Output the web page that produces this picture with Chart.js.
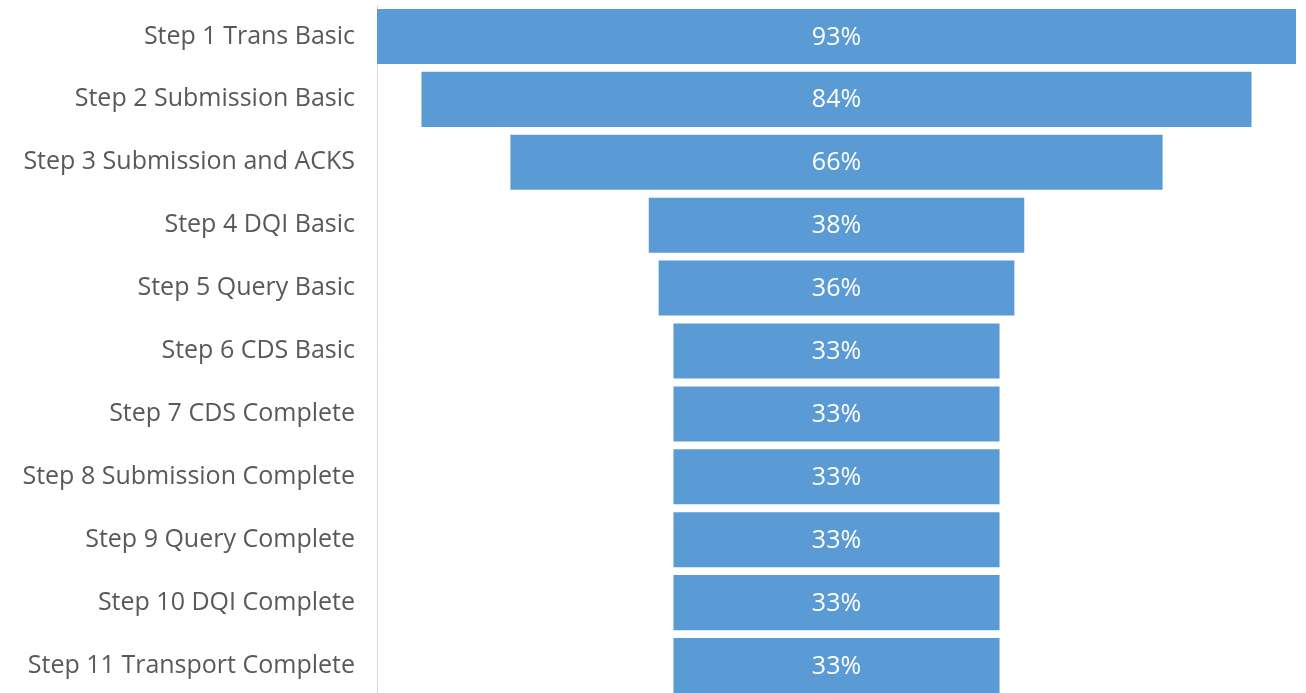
<!DOCTYPE html>
<html>
<head>
<meta charset="utf-8">
<script src="https://cdn.jsdelivr.net/npm/chart.js@4.4.0/dist/chart.umd.min.js"></script>
<style>
  html, body { margin: 0; padding: 0; background: #fff; overflow: hidden; }
  #wrap { width: 1306px; height: 700px; }
</style>
</head>
<body>
<div id="wrap"><canvas id="funnel"></canvas></div>
<script>
const steps = [
  'Step 1 Trans Basic',
  'Step 2 Submission Basic',
  'Step 3 Submission and ACKS',
  'Step 4 DQI Basic',
  'Step 5 Query Basic',
  'Step 6 CDS Basic',
  'Step 7 CDS Complete',
  'Step 8 Submission Complete',
  'Step 9 Query Complete',
  'Step 10 DQI Complete',
  'Step 11 Transport Complete'
];
const percents = [93, 84, 66, 38, 36, 33, 33, 33, 33, 33, 33];

// funnel: each bar is centred on half of the widest value
const maxVal = Math.max(...percents);
const mid = maxVal / 2;
const spans = percents.map(v => [mid - v / 2, mid + v / 2]);

// writes the % in the middle of each bar
const barLabels = {
  id: 'barLabels',
  afterDatasetsDraw(chart) {
    const ctx = chart.ctx;
    const meta = chart.getDatasetMeta(0);
    ctx.save();
    ctx.fillStyle = '#ffffff';
    ctx.font = '25px "Open Sans"';
    ctx.textAlign = 'center';
    ctx.textBaseline = 'middle';
    meta.data.forEach((bar, i) => {
      const x = chart.scales.x.getPixelForValue(mid);
      ctx.fillText(percents[i] + '%', x, bar.y + 1);
    });
    ctx.restore();
  }
};

new Chart(document.getElementById('funnel'), {
  type: 'bar',
  data: {
    labels: steps,
    datasets: [{
      data: spans,
      backgroundColor: '#5B9BD5',
      borderWidth: 0,
      borderSkipped: false,
      barPercentage: 0.875,
      categoryPercentage: 1.0
    }]
  },
  options: {
    indexAxis: 'y',
    responsive: true,
    maintainAspectRatio: false,
    animation: false,
    layout: { padding: { top: 5, right: 10, bottom: 3, left: 0 } },
    plugins: {
      legend: { display: false },
      tooltip: { enabled: false }
    },
    scales: {
      x: {
        display: false,
        min: 0,
        max: maxVal
      },
      y: {
        grid: { display: false, drawTicks: false },
        border: { display: true, color: '#d9d9d9', width: 1 },
        ticks: {
          color: '#595959',
          padding: 22,
          font: { family: 'Open Sans', size: 25 }
        },
        afterFit(scale) {
          scale.width = 377;
          scale.paddingTop = 0;
          scale.paddingBottom = 0;
        }
      }
    }
  },
  plugins: [barLabels]
});
</script>
</body>
</html>
